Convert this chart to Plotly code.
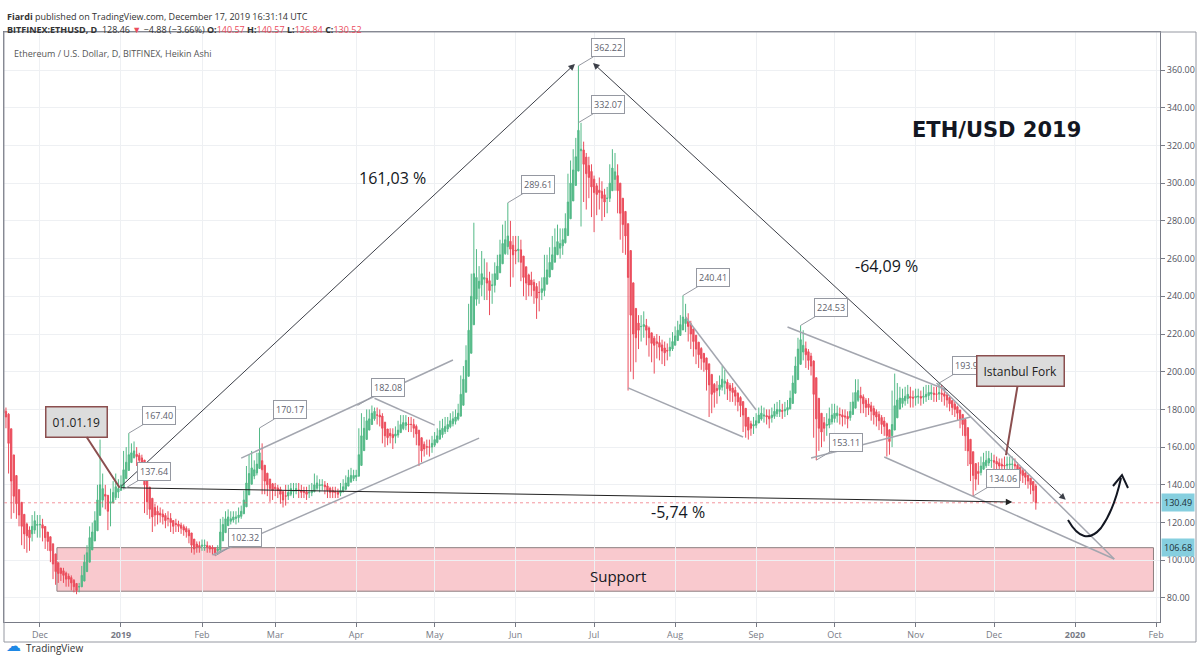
import pandas as pd
import plotly.graph_objects as go

# ---- data: Heikin Ashi daily candles, BITFINEX:ETHUSD, from 2018-11-17 ----
start_date = "2018-11-17"

ha_close = [
    178, 176, 162, 142, 134, 130, 124,   # Nov 17
    118, 114, 113, 112, 118, 121, 119,   # Nov 24
    119, 117, 112, 110, 105, 98, 94,     # Dec 1
    93, 93, 92, 90, 90, 88, 86,          # Dec 8
    84, 86, 92, 99, 104, 112, 115,       # Dec 15
    121, 132, 140, 138, 134, 126, 131,   # Dec 22
    136, 139, 138, 140, 148, 152, 156,   # Dec 29
    157, 158, 155, 153, 152, 140, 131,   # Jan 5
    127, 123, 124, 124, 124, 123, 121,   # Jan 12
    122, 120, 118, 119, 118, 117, 116,   # Jan 19
    115, 113, 108, 106, 107, 107, 108,   # Jan 26
    108, 107, 106, 106, 104, 106, 115,   # Feb 2
    119, 122, 123, 122, 123, 123, 124,   # Feb 9
    126, 132, 141, 146, 149, 148, 151,   # Feb 16
    157, 148, 142, 140, 138, 137, 138,   # Feb 23
    137, 135, 132, 134, 136, 138, 137,   # Mar 2
    138, 137, 136, 136, 135, 136, 137,   # Mar 9
    140, 141, 140, 140, 139, 137, 136,   # Mar 16
    136, 136, 135, 137, 139, 141, 144,   # Mar 23
    145, 145, 145, 156, 166, 170, 174,   # Mar 30
    175, 178, 179, 177, 176, 170, 166,   # Apr 6
    165, 166, 165, 167, 169, 172, 173,   # Apr 13
    173, 172, 172, 170, 167, 161, 158,   # Apr 20
    159, 160, 160, 162, 164, 166, 169,   # Apr 27
    170, 171, 172, 174, 175, 176, 178,   # May 4
    188, 196, 206, 222, 240, 252, 250,   # May 11
    248, 252, 250, 247, 243, 246, 252,   # May 18
    256, 262, 268, 270, 272, 265, 262,   # May 25
    264, 265, 258, 250, 247, 246, 246,   # Jun 1
    243, 239, 242, 244, 250, 254, 258,   # Jun 8
    262, 266, 269, 268, 270, 276, 290,   # Jun 15
    300, 307, 314, 328, 318, 310, 305,   # Jun 22
    303, 298, 295, 294, 295, 292, 290,   # Jun 29
    292, 300, 308, 306, 296, 284, 278,   # Jul 6
    272, 250, 230, 220, 218, 222, 224,   # Jul 13
    225, 222, 218, 215, 214, 215, 213,   # Jul 20
    211, 210, 211, 213, 216, 219, 222,   # Jul 27
    225, 229, 228, 224, 220, 216, 212,   # Aug 3
    209, 207, 205, 201, 193, 188, 189,   # Aug 10
    190, 193, 196, 195, 191, 190, 189,   # Aug 17
    187, 184, 182, 177, 171, 169, 170,   # Aug 24
    172, 174, 177, 178, 177, 176, 175,   # Aug 31
    177, 179, 180, 180, 179, 180, 181,   # Sep 7
    186, 194, 203, 212, 217, 214, 209,   # Sep 14
    206, 203, 188, 175, 170, 168, 170,   # Sep 21
    172, 175, 177, 178, 178, 177, 176,   # Sep 28
    176, 175, 179, 184, 189, 190, 186,   # Oct 5
    183, 181, 181, 179, 177, 176, 174,   # Oct 12
    172, 171, 166, 163, 172, 182, 185,   # Oct 19
    186, 186, 187, 188, 186, 186, 187,   # Oct 26
    187, 186, 187, 188, 189, 189, 188,   # Nov 2
    188, 189, 188, 187, 185, 183, 181,   # Nov 9
    180, 178, 175, 172, 166, 158, 151,   # Nov 16
    145, 143, 146, 150, 152, 153, 154,   # Nov 23
    153, 152, 151, 150, 150, 150, 151,   # Nov 30
    151, 151, 150, 148, 146, 145, 144,   # Dec 7
    142, 140, 137, 130.52,               # Dec 14
]

ha_high = [
    182, 181, 178, 160, 142, 138, 130,
    125, 121, 120, 118, 124, 126, 124,
    124, 122, 118, 114, 112, 104, 98,
    97, 96, 96, 94, 93, 92, 90,
    87, 88, 97, 103, 108, 118, 120,
    126, 140, 164, 146, 140, 134, 138,
    142, 146, 143, 145, 158, 160, 167.4,
    162, 163, 160, 157, 156, 153, 138,
    131, 128, 130, 129, 128, 127, 125,
    126, 125, 121, 122, 121, 120, 119,
    118, 117, 113, 109, 110, 110, 111,
    111, 110, 108, 108, 107, 108, 122,
    123, 126, 127, 126, 126, 126, 128,
    129, 137, 150, 156, 158, 153, 157,
    170.17, 162, 150, 145, 142, 141, 141,
    140, 139, 137, 140, 140, 141, 141,
    141, 141, 140, 139, 139, 140, 141,
    146, 145, 143, 143, 142, 141, 139,
    139, 139, 138, 141, 143, 145, 148,
    149, 148, 148, 170, 178, 176, 180,
    180, 182.08, 181, 181, 180, 178, 171,
    169, 170, 170, 171, 174, 177, 177,
    177, 176, 176, 175, 172, 168, 164,
    163, 164, 164, 166, 168, 170, 174,
    175, 176, 176, 178, 179, 180, 183,
    198, 203, 214, 236, 252, 279, 265,
    256, 264, 260, 258, 253, 252, 258,
    262, 270, 278, 280, 289.61, 280, 272,
    272, 272, 270, 258, 254, 252, 253,
    249, 247, 248, 250, 262, 262, 266,
    272, 276, 278, 276, 276, 284, 305,
    312, 318, 324, 362.22, 332, 322, 316,
    314, 310, 304, 300, 303, 301, 297,
    298, 310, 318, 316, 310, 298, 290,
    282, 272, 250, 234, 226, 230, 230,
    232, 228, 224, 220, 219, 220, 219,
    217, 216, 215, 218, 221, 224, 227,
    230, 240.41, 236, 231, 227, 223, 218,
    214, 213, 210, 207, 201, 194, 194,
    195, 198, 203, 201, 196, 194, 194,
    192, 189, 187, 182, 177, 173, 174,
    176, 178, 181, 182, 181, 180, 180,
    181, 183, 184, 185, 183, 184, 185,
    190, 198, 208, 218, 224.53, 222, 216,
    212, 210, 206, 190, 180, 176, 176,
    178, 181, 183, 183, 182, 181, 180,
    180, 179, 184, 189, 196, 196, 192,
    188, 186, 186, 184, 182, 180, 179,
    177, 176, 173, 168, 190, 199, 194,
    192, 191, 192, 193, 192, 190, 191,
    191, 190, 192, 193, 193, 193, 192,
    192, 193.98, 193, 191, 189, 187, 185,
    184, 182, 179, 176, 173, 168, 160,
    152, 150, 152, 155, 157, 158, 158,
    157, 156, 155, 154, 154, 155, 155,
    155, 155, 154, 152, 150, 149, 148,
    145, 143, 141, 140.57,
]

ha_low = [
    172, 170, 146, 122, 125, 122, 118,
    108, 106, 104, 105, 110, 114, 112,
    112, 110, 106, 105, 99, 90, 87,
    88, 89, 88, 86, 86, 84, 83,
    82, 83, 86, 92, 96, 102, 106,
    114, 122, 130, 128, 127, 116, 118,
    130, 132, 133, 137.64, 138, 145, 148,
    152, 154, 150, 149, 148, 125, 124,
    122, 115, 118, 119, 120, 119, 117,
    118, 115, 114, 115, 115, 114, 113,
    112, 109, 104, 103, 104, 104, 105,
    105, 104, 104, 103, 102.32, 103, 104,
    114, 118, 119, 119, 120, 119, 120,
    122, 126, 132, 139, 143, 143, 145,
    150, 135, 135, 134, 131, 132, 134,
    133, 130, 128, 129, 132, 134, 133,
    135, 133, 133, 133, 132, 133, 134,
    136, 137, 136, 137, 135, 133, 133,
    133, 133, 133, 134, 136, 137, 140,
    141, 142, 142, 145, 156, 162, 167,
    170, 172, 174, 172, 171, 162, 160,
    161, 162, 159, 162, 165, 168, 169,
    169, 168, 168, 165, 161, 150, 152,
    155, 156, 155, 157, 160, 162, 164,
    165, 167, 168, 170, 171, 172, 174,
    178, 184, 192, 204, 220, 236, 235,
    236, 240, 238, 238, 230, 236, 242,
    250, 254, 260, 262, 262, 245, 250,
    257, 258, 248, 240, 238, 240, 240,
    236, 228, 232, 238, 240, 246, 250,
    256, 260, 262, 260, 262, 268, 276,
    288, 298, 305, 312, 277, 290, 286,
    292, 282, 274, 283, 286, 280, 282,
    284, 290, 300, 296, 284, 270, 263,
    262, 190, 200, 196, 205, 212, 216,
    218, 214, 208, 205, 199, 207, 206,
    204, 203, 206, 208, 211, 214, 217,
    220, 224, 221, 216, 212, 208, 204,
    202, 201, 200, 190, 176, 178, 181,
    183, 187, 190, 188, 185, 184, 184,
    182, 179, 176, 168, 165, 164, 166,
    167, 170, 173, 174, 173, 172, 170,
    173, 175, 176, 176, 175, 176, 177,
    180, 187, 195, 204, 208, 206, 202,
    201, 198, 165, 153.11, 158, 160, 163,
    166, 170, 172, 173, 173, 172, 171,
    172, 170, 174, 178, 183, 184, 178,
    178, 176, 177, 174, 172, 171, 169,
    167, 166, 155, 156, 160, 172, 179,
    180, 181, 182, 183, 181, 181, 182,
    183, 182, 183, 184, 185, 185, 184,
    184, 185, 184, 182, 181, 179, 177,
    176, 174, 170, 166, 158, 150, 142,
    134.06, 137, 140, 145, 148, 149, 150,
    149, 148, 147, 146, 146, 146, 147,
    147, 147, 146, 144, 142, 141, 140,
    138, 135, 131, 126.84,
]

first_open = 180.0
last_price = 130.49
support_top = 106.68
support_bottom = 83.6

month_ticks = ["2018-12-01", "2019-01-01", "2019-02-01", "2019-03-01", "2019-04-01",
               "2019-05-01", "2019-06-01", "2019-07-01", "2019-08-01", "2019-09-01",
               "2019-10-01", "2019-11-01", "2019-12-01", "2020-01-01", "2020-02-01"]
month_labels = ["Dec", "<b>2019</b>", "Feb", "Mar", "Apr", "May", "Jun", "Jul", "Aug",
                "Sep", "Oct", "Nov", "Dec", "<b>2020</b>", "Feb"]
price_ticks = list(range(80, 361, 20))

# price labels placed on the chart (date, price)
price_labels = [
    ("2019-06-25", 362.22), ("2019-06-25", 332.07), ("2019-05-29", 289.61),
    ("2019-08-04", 240.41), ("2019-09-18", 224.53), ("2019-11-10", 193.98),
    ("2019-04-01 12:00", 182.08), ("2019-02-23", 170.17), ("2019-01-04", 167.40),
    ("2019-01-02", 137.64), ("2019-02-06", 102.32), ("2019-09-24", 153.11),
    ("2019-11-23", 134.06),
]

# gray trend lines (date, price) -> (date, price)
gray_lines = [
    (("2019-02-16", 154.2), ("2019-05-08", 206.2)),
    (("2019-02-05", 102.8), ("2019-05-18", 164.8)),
    (("2019-04-08", 185.9), ("2019-05-01", 171.7)),
    (("2019-07-14", 191.4), ("2019-08-27", 165.4)),
    (("2019-08-05", 229.0), ("2019-09-01", 179.7)),
    (("2019-09-13", 223.7), ("2019-11-13", 190.3)),
    (("2019-09-22", 154.2), ("2019-11-22", 176.0)),
    (("2019-10-20", 154.8), ("2020-01-16", 100.7)),
    (("2019-11-09", 194.0), ("2020-01-16", 100.7)),
]

# ---- Heikin Ashi open from the previous candle ----
dates = pd.date_range(start_date, periods=len(ha_close), freq="D")
opens = [first_open]
for i in range(1, len(ha_close)):
    opens.append((opens[-1] + ha_close[i - 1]) / 2)
highs = [max(h, o, c) for h, o, c in zip(ha_high, opens, ha_close)]
lows = [min(l, o, c) for l, o, c in zip(ha_low, opens, ha_close)]

UP = "#53b987"
DOWN = "#eb4d5c"
AXIS = "#787b86"
GRID = "#eef0f3"
DARK = "#3c3f48"
GRAY_LINE = "#a3a6af"


def px(x):
    # pixel column -> paper x
    return (x - 4) / 1156


def py(y):
    # pixel row -> paper y
    return (622 - y) / 590


fig = go.Figure()

fig.add_trace(go.Candlestick(
    x=dates, open=opens, high=highs, low=lows, close=ha_close,
    increasing=dict(line=dict(color=UP, width=1), fillcolor=UP),
    decreasing=dict(line=dict(color=DOWN, width=1), fillcolor=DOWN),
    whiskerwidth=0, showlegend=False, hoverinfo="skip",
))

shapes = []
# support zone
shapes.append(dict(type="rect", xref="x", yref="y", x0="2018-12-07 12:00", x1="2020-01-31",
                   y0=support_bottom, y1=support_top, fillcolor="rgba(235,77,92,0.3)",
                   line=dict(color="#8d7f80", width=1), layer="below"))
# last price line
shapes.append(dict(type="line", xref="paper", yref="y", x0=0, x1=1, y0=last_price, y1=last_price,
                   line=dict(color="rgba(235,77,92,0.6)", width=1, dash="dot")))
for (x0, y0), (x1, y1) in gray_lines:
    shapes.append(dict(type="line", xref="x", yref="y", x0=x0, y0=y0, x1=x1, y1=y1,
                       line=dict(color=GRAY_LINE, width=1.5)))
# curved arrow at the right
curve = "M {} {} Q {} {} {} {} Q {} {} {} {}".format(
    px(1068), py(520), px(1084), py(548), px(1101), py(528),
    px(1114), py(510), px(1121), py(478))
shapes.append(dict(type="path", xref="paper", yref="paper", path=curve,
                   line=dict(color="#131722", width=2)))
head = "M {} {} L {} {} L {} {}".format(px(1113), py(486), px(1122), py(475), px(1128), py(488))
shapes.append(dict(type="path", xref="paper", yref="paper", path=head,
                   line=dict(color="#131722", width=2)))
# outer frame
shapes.append(dict(type="rect", xref="paper", yref="paper", x0=0, x1=px(1196), y0=py(642), y1=1,
                   line=dict(color="#9598a1", width=1)))

annotations = []
# big arrows
annotations.append(dict(x="2019-06-23 16:00", y=363.2, ax="2018-12-31 12:00", ay=138.5,
                        xref="x", yref="y", axref="x", ayref="y", text="", showarrow=True,
                        arrowhead=2, arrowsize=1.3, arrowwidth=1, arrowcolor=DARK))
annotations.append(dict(x="2019-06-30 14:00", y=363.7, ax="2019-12-29", ay=131.4,
                        xref="x", yref="y", axref="x", ayref="y", text="", showarrow=True,
                        arrowhead=2, arrowsize=1.3, arrowwidth=1, arrowcolor=DARK,
                        arrowside="end+start", startarrowhead=2, startarrowsize=1.3))
annotations.append(dict(x="2019-12-08", y=130.9, ax="2018-12-31 12:00", ay=138.5,
                        xref="x", yref="y", axref="x", ayref="y", text="", showarrow=True,
                        arrowhead=2, arrowsize=1.3, arrowwidth=1, arrowcolor="#222"))

# price labels
for d, p in price_labels:
    annotations.append(dict(x=d, y=p, xref="x", yref="y", text=f"{p:.2f}", showarrow=True,
                            ax=30, ay=-18, arrowhead=0, arrowwidth=1, arrowcolor="#9598a1",
                            bgcolor="white", bordercolor="#9598a1", borderwidth=1, borderpad=2,
                            font=dict(size=9, color="#5d606b")))

# callouts
annotations.append(dict(x="2018-12-31 12:00", y=138.5, xref="x", yref="y", text="01.01.19",
                        showarrow=True, ax=-43, ay=-66, arrowhead=0, arrowwidth=2,
                        arrowcolor="#8b4f4f", bgcolor="#dcdcdc", bordercolor="#8b4f4f",
                        borderwidth=1.5, borderpad=6, font=dict(size=12, color="#222")))
annotations.append(dict(x="2019-12-05 14:00", y=155.8, xref="x", yref="y", text="Istanbul Fork",
                        showarrow=True, ax=14, ay=-84, arrowhead=0, arrowwidth=2,
                        arrowcolor="#8b4f4f", bgcolor="#dcdcdc", bordercolor="#8b4f4f",
                        borderwidth=1.5, borderpad=6, font=dict(size=12, color="#222")))

# free texts
annotations.append(dict(x="2019-04-15", y=302.7, xref="x", yref="y", text="161,03 %",
                        showarrow=False, font=dict(size=16, color="#131722")))
annotations.append(dict(x="2019-10-21", y=256, xref="x", yref="y", text="-64,09 %",
                        showarrow=False, font=dict(size=16, color="#131722")))
annotations.append(dict(x="2019-08-02", y=125.6, xref="x", yref="y", text="-5,74 %",
                        showarrow=False, font=dict(size=16, color="#131722")))
annotations.append(dict(x="2019-12-02", y=328.2, xref="x", yref="y", text="<b>ETH/USD 2019</b>",
                        showarrow=False, font=dict(size=21, color="#131722", family="DejaVu Sans")))
annotations.append(dict(x="2019-07-10", y=91.7, xref="x", yref="y", text="Support",
                        showarrow=False, font=dict(size=15, color="#131722")))

# axis price tags
for val in [last_price, support_top]:
    annotations.append(dict(x=px(1161), y=val, xref="paper", yref="y", xanchor="left",
                            text=f"{val:.2f}", showarrow=False, bgcolor="#86cfdf",
                            borderpad=2, font=dict(size=9, color="#1b2e36")))

# header
annotations.append(dict(x=px(5), y=py(8), xref="paper", yref="paper", xanchor="left",
                        text="<b>Fiardi</b> published on TradingView.com, December 17, 2019 16:31:14 UTC",
                        showarrow=False, font=dict(size=9, color="#333")))
red = "<span style='color:#eb4d5c'>{}</span>"
annotations.append(dict(x=px(5), y=py(21), xref="paper", yref="paper", xanchor="left",
                        text="<b>BITFINEX:ETHUSD, D</b>  128.46 " + red.format("▼") + " \u22124.88 (\u22123.66%) "
                             + "<b>O:</b>" + red.format("140.57") + " <b>H:</b>" + red.format("140.57")
                             + " <b>L:</b>" + red.format("126.84") + " <b>C:</b>" + red.format("130.52"),
                        showarrow=False, font=dict(size=9, color="#333")))
annotations.append(dict(x=px(12), y=py(45), xref="paper", yref="paper", xanchor="left",
                        text="Ethereum / U.S. Dollar, D, BITFINEX, Heikin Ashi",
                        showarrow=False, font=dict(size=9, color="#555")))
# logo
annotations.append(dict(x=px(4), y=py(657), xref="paper", yref="paper", xanchor="left",
                        text="<span style='color:#1e88e5'>☁</span>", showarrow=False,
                        font=dict(size=15, family="DejaVu Sans")))
annotations.append(dict(x=px(24), y=py(657), xref="paper", yref="paper", xanchor="left",
                        text="TradingView", showarrow=False, font=dict(size=10, color="#333")))

fig.update_layout(
    width=1200, height=670,
    margin=dict(l=4, r=40, t=32, b=48),
    paper_bgcolor="white", plot_bgcolor="white",
    font=dict(family="Open Sans", color="#333"),
    shapes=shapes, annotations=annotations,
    xaxis=dict(type="date", range=["2018-11-17 06:00", "2020-02-02 12:00"],
               tickvals=month_ticks, ticktext=month_labels,
               showgrid=True, gridcolor=GRID, gridwidth=1, zeroline=False,
               ticks="outside", ticklen=4, tickcolor=AXIS,
               tickfont=dict(size=9, color=AXIS),
               showline=True, linecolor=AXIS, linewidth=1, mirror=True,
               rangeslider=dict(visible=False)),
    yaxis=dict(side="right", range=[67.27, 380.15], tickvals=price_ticks, tickformat=".2f",
               showgrid=True, gridcolor=GRID, gridwidth=1, zeroline=False,
               ticks="outside", ticklen=4, tickcolor=AXIS,
               tickfont=dict(size=9, color="#50535e"),
               showline=True, linecolor=AXIS, linewidth=1, mirror=True),
)

# page margin off so the 1200x670 figure fills the window exactly
fig.write_html("out.html", config={"displayModeBar": False},
               post_script="document.body.style.margin='0';document.body.style.overflow='hidden';")
